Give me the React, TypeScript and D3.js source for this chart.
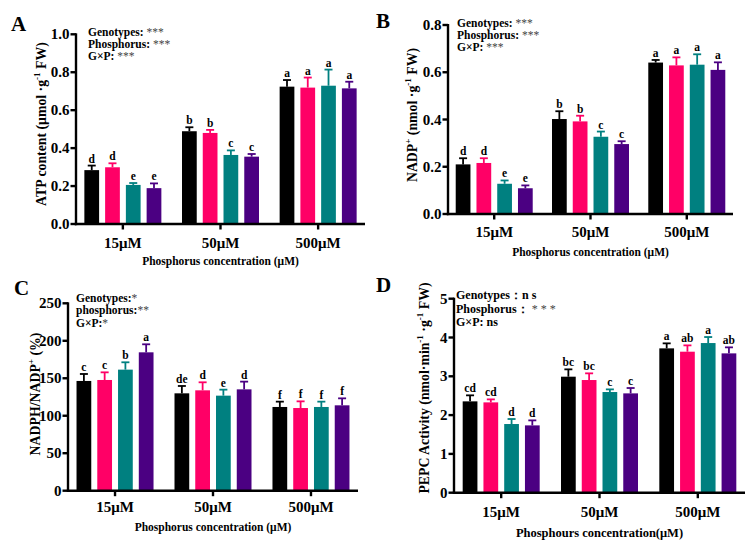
import React from 'react';
import * as d3 from 'd3';

// ---------- data ----------
const groups = ['15μM', '50μM', '500μM'];
const genotypes = ['G1', 'G2', 'G3', 'G4'];
const genotypeColors = ['#000000', '#FF0066', '#008080', '#4B0082'];

const atpMean = [[0.284, 0.299, 0.206, 0.189], [0.489, 0.480, 0.364, 0.355], [0.724, 0.719, 0.729, 0.715]];
const atpErr = [[0.024, 0.021, 0.010, 0.025], [0.021, 0.016, 0.024, 0.014], [0.035, 0.053, 0.085, 0.035]];
const atpLetters = [['d', 'd', 'e', 'e'], ['b', 'b', 'c', 'c'], ['a', 'a', 'a', 'a']];
const atpTicks = [0, 0.2, 0.4, 0.6, 0.8, 1.0];

const nadpMean = [[0.210, 0.216, 0.128, 0.109], [0.402, 0.392, 0.327, 0.296], [0.641, 0.629, 0.632, 0.610]];
const nadpErr = [[0.026, 0.020, 0.014, 0.012], [0.033, 0.024, 0.022, 0.012], [0.011, 0.034, 0.044, 0.032]];
const nadpLetters = [['d', 'd', 'e', 'e'], ['b', 'b', 'c', 'c'], ['a', 'a', 'a', 'a']];
const nadpTicks = [0, 0.2, 0.4, 0.6, 0.8];

const ratioMean = [[146.4, 147.7, 161.5, 184.6], [129.9, 133.9, 126.8, 135.2], [111.7, 110.3, 111.7, 113.9]];
const ratioErr = [[9.3, 10.2, 9.8, 10.7], [9.8, 10.7, 8.0, 10.3], [7.1, 8.9, 7.1, 9.3]];
const ratioLetters = [['c', 'c', 'b', 'a'], ['de', 'd', 'e', 'd'], ['f', 'f', 'f', 'f']];
const ratioTicks = [0, 50, 100, 150, 200, 250];

const pepcMean = [[2.354, 2.328, 1.770, 1.735], [2.990, 2.904, 2.595, 2.560], [3.720, 3.634, 3.857, 3.591]];
const pepcErr = [[0.155, 0.077, 0.129, 0.129], [0.189, 0.172, 0.068, 0.138], [0.129, 0.163, 0.155, 0.155]];
const pepcLetters = [['cd', 'cd', 'd', 'd'], ['bc', 'bc', 'c', 'c'], ['a', 'ab', 'a', 'ab']];
const pepcTicks = [0, 1, 2, 3, 4, 5];

const FONT = '"Liberation Serif", "Times New Roman", serif';

type Annot = { label: string; stars: string; starsBold?: boolean };

type PanelProps = {
  tag: string;
  tagPos: [number, number];
  x0: number; x1: number; yTop: number; yZero: number;
  ticks: number[]; fmt: (v: number) => string;
  means: number[][]; errs: number[][]; letters: string[][];
  yTitle: React.ReactNode; yTitlePos: [number, number];
  xTitle: string; xTitleBaseline: number;
  tickBaseline: number;
  annots: Annot[]; annotX: number; annotY: number; annotStep: number; annotSize: number;
  xTitleSize: number;
};

function Panel(p: PanelProps) {
  const y = d3.scaleLinear().domain([0, p.ticks[p.ticks.length - 1]]).range([p.yZero, p.yTop]);
  const gx = d3.scalePoint<string>().domain(groups).range([p.x0, p.x1]).padding(0.48);
  const inner = d3.scaleBand<string>().domain(genotypes).range([-38.5, 38.5]).paddingInner(0.29).paddingOuter(0);
  const bw = inner.bandwidth();
  return (
    <g fontFamily={FONT} fontWeight="bold">
      <text x={p.tagPos[0]} y={p.tagPos[1]} fontSize={21}>{p.tag}</text>
      {groups.map((g, gi) => genotypes.map((s, si) => {
        const cx = (gx(g) as number) + (inner(s) as number);
        const v = p.means[gi][si];
        const e = p.errs[gi][si];
        const c = genotypeColors[si];
        const top = y(v + e);
        return (
          <g key={g + s}>
            <rect x={cx} y={y(v)} width={bw} height={p.yZero - y(v)} fill={c} />
            <line x1={cx + bw / 2} x2={cx + bw / 2} y1={y(v)} y2={top} stroke={c} strokeWidth={1.8} />
            <line x1={cx + bw / 2 - 4} x2={cx + bw / 2 + 4} y1={top} y2={top} stroke={c} strokeWidth={1.8} />
            <text x={cx + bw / 2} y={top - 3} fontSize={11.5} textAnchor="middle">{p.letters[gi][si]}</text>
          </g>
        );
      }))}
      {/* y axis */}
      <line x1={p.x0} x2={p.x0} y1={p.yTop - 1} y2={p.yZero + 1.2} stroke="#000" strokeWidth={2.4} />
      {p.ticks.map((t) => (
        <g key={t}>
          <line x1={p.x0 - 5.5} x2={p.x0} y1={y(t)} y2={y(t)} stroke="#000" strokeWidth={2.4} />
          <text x={p.x0 - 6.5} y={y(t)} dy="0.34em" fontSize={15} textAnchor="end">{p.fmt(t)}</text>
        </g>
      ))}
      {/* x axis */}
      <line x1={p.x0 - 1.2} x2={p.x1} y1={p.yZero} y2={p.yZero} stroke="#000" strokeWidth={2.4} />
      {groups.map((g) => (
        <g key={g}>
          <line x1={gx(g)} x2={gx(g)} y1={p.yZero} y2={p.yZero + 5.5} stroke="#000" strokeWidth={2.4} />
          <text x={gx(g)} y={p.tickBaseline} fontSize={15} textAnchor="middle">{g}</text>
        </g>
      ))}
      <text x={(p.x0 + p.x1) / 2} y={p.xTitleBaseline} fontSize={p.xTitleSize} textAnchor="middle">{p.xTitle}</text>
      <text transform={`translate(${p.yTitlePos[0]},${p.yTitlePos[1]}) rotate(-90)`} fontSize={13.8} textAnchor="middle" dy="0.35em">{p.yTitle}</text>
      {p.annots.map((a, i) => (
        <text key={i} x={p.annotX} y={p.annotY + i * p.annotStep} fontSize={p.annotSize}>
          {a.label}
          <tspan fill={a.starsBold ? '#000' : '#444'} fontWeight={a.starsBold ? 'bold' : 'normal'}>{a.stars}</tspan>
        </text>
      ))}
    </g>
  );
}

const sup = (s: string) => (
  <>
    <tspan dy="-5.5" fontSize={9}>{s}</tspan>
    <tspan dy="5.5">{' '}</tspan>
  </>
);

export default function App() {
  return (
    <svg width={754} height={547} style={{ position: 'absolute', left: 0, top: 0, background: '#fff' }}>
      <Panel
        tag="A" tagPos={[11, 31]}
        x0={76} x1={365} yTop={34.3} yZero={224}
        ticks={atpTicks} fmt={d3.format('.1f')}
        means={atpMean} errs={atpErr} letters={atpLetters}
        yTitle={<>ATP content (μmol ·g{sup('-1')}FW)</>} yTitlePos={[41, 124]}
        xTitle="Phosphorus concentration (μM)" xTitleBaseline={265} xTitleSize={11.5}
        tickBaseline={248}
        annots={[{ label: 'Genotypes:  ', stars: '***' }, { label: 'Phosphorus:  ', stars: '***' }, { label: 'G×P: ', stars: '***' }]}
        annotX={88} annotY={35.5} annotStep={12.3} annotSize={11.5}
      />
      <Panel
        tag="B" tagPos={[376, 28]}
        x0={448} x1={733} yTop={25} yZero={214}
        ticks={nadpTicks} fmt={d3.format('.1f')}
        means={nadpMean} errs={nadpErr} letters={nadpLetters}
        yTitle={<>NADP{sup('+')}(nmol ·g{sup('-1')}FW)</>} yTitlePos={[412, 115]}
        xTitle="Phosphorus concentration (μM)" xTitleBaseline={256} xTitleSize={11.5}
        tickBaseline={237}
        annots={[{ label: 'Genotypes:  ', stars: '***' }, { label: 'Phosphorus:  ', stars: '***' }, { label: 'G×P: ', stars: '***' }]}
        annotX={457} annotY={26.5} annotStep={12} annotSize={11.5}
      />
      <Panel
        tag="C" tagPos={[14, 295]}
        x0={68} x1={358} yTop={303.3} yZero={490.7}
        ticks={ratioTicks} fmt={d3.format('d')}
        means={ratioMean} errs={ratioErr} letters={ratioLetters}
        yTitle={<>NADPH/NADP{sup('+')}(%)</>} yTitlePos={[35, 394]}
        xTitle="Phosphorus concentration (μM)" xTitleBaseline={531} xTitleSize={11.5}
        tickBaseline={512}
        annots={[{ label: 'Genotypes:', stars: '*' }, { label: 'phosphorus:', stars: '**' }, { label: 'G×P:', stars: '*' }]}
        annotX={76} annotY={301.5} annotStep={12.7} annotSize={11.5}
      />
      <Panel
        tag="D" tagPos={[376, 292]}
        x0={454} x1={745} yTop={298.7} yZero={492.7}
        ticks={pepcTicks} fmt={d3.format('d')}
        means={pepcMean} errs={pepcErr} letters={pepcLetters}
        yTitle={<>PEPC Activity (nmol·min{sup('-1')}·g{sup('-1')}FW)</>} yTitlePos={[424, 388]}
        xTitle="Phosphours concentration(μM)" xTitleBaseline={537} xTitleSize={12.5}
        tickBaseline={517}
        annots={[{ label: 'Genotypes：', stars: 'n s', starsBold: true }, { label: 'Phosphorus：', stars: ' * * *' }, { label: 'G×P:  ', stars: 'ns', starsBold: true }]}
        annotX={456} annotY={299} annotStep={13.7} annotSize={12}
      />
    </svg>
  );
}
